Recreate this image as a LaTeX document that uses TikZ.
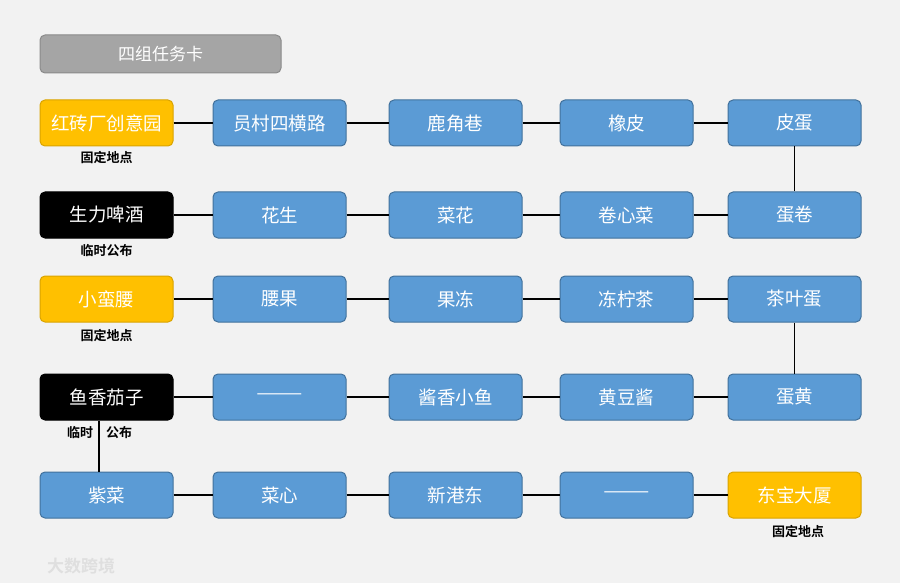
\documentclass[tikz,border=0pt]{standalone}
\usepackage{fontspec}
\newfontfamily\cjk{Noto Sans CJK SC}
\newfontfamily\cjkb{Noto Sans CJK SC Bold}
\definecolor{bgc}{HTML}{F2F2F2}
\definecolor{bluef}{HTML}{5B9BD5}
\definecolor{blued}{HTML}{41719C}
\definecolor{yelf}{HTML}{FFC000}
\definecolor{yeld}{HTML}{D9A300}
\definecolor{grayf}{HTML}{A5A5A5}
\definecolor{grayd}{HTML}{8A8A8A}
\tikzset{
  card/.style={rectangle, rounded corners=5pt, minimum width=133pt, minimum height=46pt, line width=1pt, font=\cjk\fontsize{18.5}{20}\selectfont, text=white, inner sep=0pt},
  bluecard/.style={card, fill=bluef, draw=blued},
  yelcard/.style={card, fill=yelf, draw=yeld},
  blkcard/.style={card, fill=black, draw=black},
  titlecard/.style={rectangle, rounded corners=5pt, minimum width=241pt, minimum height=38pt, fill=grayf, draw=grayd, line width=1pt, font=\cjk\fontsize{17}{19}\selectfont, text=white, inner sep=0pt},
  note/.style={font=\cjkb\fontsize{13}{15}\selectfont, text=black, inner sep=0pt},
  link/.style={line width=1.8pt, black}
}
\newcommand{\longdash}{\scalebox{1.5}[1]{——}}
\begin{document}
\begin{tikzpicture}[x=1pt,y=-1pt]
\fill[bgc] (0,0) rectangle (900,583);
\useasboundingbox (0,0) rectangle (900,583);
\node[titlecard] (title) at (160.5,54) {四组任务卡};
\node[yelcard] (a1) at (106.5,123) {红砖厂创意园};
\node[bluecard] (a2) at (279.5,123) {员村四横路};
\node[bluecard] (a3) at (455.5,123) {鹿角巷};
\node[bluecard] (a4) at (626.5,123) {橡皮};
\node[bluecard] (a5) at (794.5,123) {皮蛋};
\node[blkcard] (b1) at (106.5,215) {生力啤酒};
\node[bluecard] (b2) at (279.5,215) {花生};
\node[bluecard] (b3) at (455.5,215) {菜花};
\node[bluecard] (b4) at (626.5,215) {卷心菜};
\node[bluecard] (b5) at (794.5,215) {蛋卷};
\node[yelcard] (c1) at (106.5,299) {小蛮腰};
\node[bluecard] (c2) at (279.5,299) {腰果};
\node[bluecard] (c3) at (455.5,299) {果冻};
\node[bluecard] (c4) at (626.5,299) {冻柠茶};
\node[bluecard] (c5) at (794.5,299) {茶叶蛋};
\node[blkcard] (d1) at (106.5,397) {鱼香茄子};
\node[bluecard] (d2) at (279.5,397) {\longdash};
\node[bluecard] (d3) at (455.5,397) {酱香小鱼};
\node[bluecard] (d4) at (626.5,397) {黄豆酱};
\node[bluecard] (d5) at (794.5,397) {蛋黄};
\node[bluecard] (e1) at (106.5,495) {紫菜};
\node[bluecard] (e2) at (279.5,495) {菜心};
\node[bluecard] (e3) at (455.5,495) {新港东};
\node[bluecard] (e4) at (626.5,495) {\longdash};
\node[yelcard] (e5) at (794.5,495) {东宝大厦};
\foreach \r in {a,b,c,d,e}{
  \draw[link] (\r1) -- (\r2);
  \draw[link] (\r2) -- (\r3);
  \draw[link] (\r3) -- (\r4);
  \draw[link] (\r4) -- (\r5);
}
\draw[link] (a5) -- (b5);
\draw[link] (c5) -- (d5);
\draw[link] (d1.south -| 99,0) -- (e1.north -| 99,0);
\node[note] (n1) at (106.5,158) {固定地点};
\node[note] (n2) at (106.5,251) {临时公布};
\node[note] (n3) at (106.5,336) {固定地点};
\node[note] (n4a) at (80,433) {临时};
\node[note] (n4b) at (119,433) {公布};
\node[note] (n5) at (798,532) {固定地点};
\node[font=\cjkb\fontsize{17}{19}\selectfont, text=gray!25, inner sep=0pt] (wm) at (81,566) {大数跨境};
\end{tikzpicture}
\end{document}
